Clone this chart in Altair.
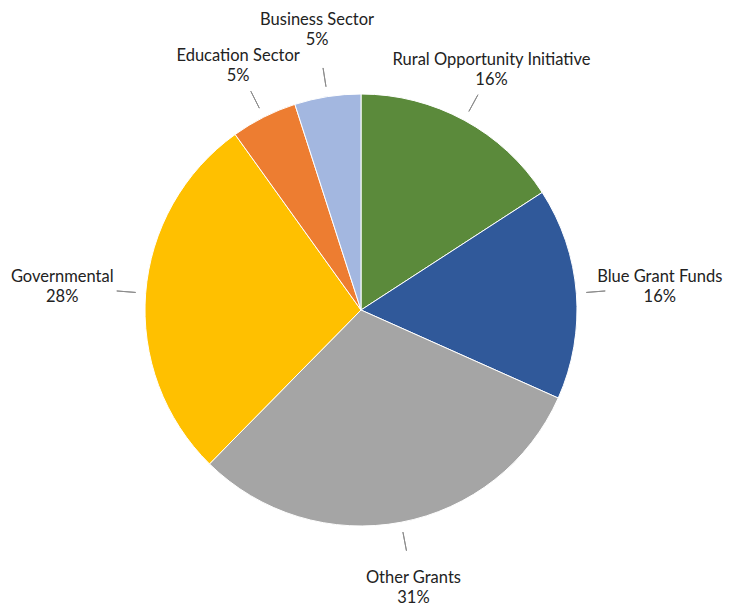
import altair as alt
import pandas as pd

categories = ["Rural Opportunity Initiative", "Blue Grant Funds", "Other Grants",
              "Governmental", "Education Sector", "Business Sector"]
values = [16, 16, 31, 28, 5, 5]
pct_labels = ["16%", "16%", "31%", "28%", "5%", "5%"]
colors = ["#5b8a3b", "#30599a", "#a5a5a5", "#ffc000", "#ed7d31", "#a3b7e0"]

df = pd.DataFrame({
    "category": categories,
    "value": values,
    "pct": pct_labels,
    "order": list(range(len(categories))),
})
df["label"] = df["category"] + "\n" + df["pct"]

base = alt.Chart(df).transform_joinaggregate(
    total="sum(value)"
).transform_window(
    cum="sum(value)", sort=[alt.SortField("order")], frame=[None, 0]
).transform_calculate(
    mid="(datum.cum - datum.value/2) / datum.total * 2 * PI"
).transform_calculate(
    lr="272 + 28*pow(abs(sin(datum.mid)),4) + 200*max(abs(cos(datum.mid))-0.93, 0)"
)

cx = alt.value(353)
cy = alt.value(302)

color = alt.Color("category:N", scale=alt.Scale(domain=categories, range=colors), legend=None)

pie = base.mark_arc(outerRadius=216, stroke="white", strokeWidth=1).encode(
    theta=alt.Theta("value:Q", stack=True),
    color=color,
    order=alt.Order("order:Q"),
    x=cx, y=cy,
)

leaders = base.mark_arc(radius=245, radius2=226, stroke="#8c8c8c", strokeWidth=1, fill=None).encode(
    theta=alt.Theta("mid:Q", scale=None),
    theta2=alt.Theta2("mid:Q"),
    x=cx, y=cy,
)

labels = base.mark_text(
    font="Lato", fontSize=16.5, color="#222222", lineBreak="\n", lineHeight=20,
    baseline="middle", align="center", dy=-10
).encode(
    theta=alt.Theta("mid:Q", scale=None),
    radius=alt.Radius("lr:Q", scale=None),
    text="label:N",
    x=cx, y=cy,
)

chart = alt.layer(pie, leaders, labels).resolve_scale(
    theta="independent", radius="independent"
).properties(
    width=723, height=600, padding=0,
    autosize=alt.AutoSizeParams(type="none"),
).configure_view(stroke=None)

chart.save("out.html", embed_options={"renderer": "svg", "actions": False})
